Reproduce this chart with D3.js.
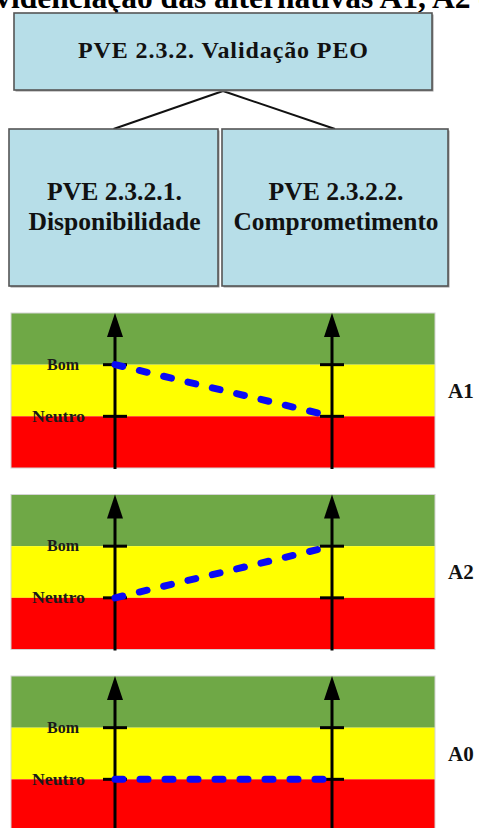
<!DOCTYPE html>
<html>
<head>
<meta charset="utf-8">
<script src="https://cdn.jsdelivr.net/npm/d3@7"></script>
<style>
  html, body { margin: 0; padding: 0; background: #ffffff; }
  svg { display: block; }
</style>
</head>
<body>
<div id="chart"></div>
<script>
// ---------------- data ----------------
const title = "Evidenciação das alternativas A1, A2 e A0";
const rootLabel = "PVE 2.3.2. Validação PEO";
const criteria = ["PVE 2.3.2.1.", "PVE 2.3.2.2."];
const criteriaNames = ["Disponibilidade", "Comprometimento"];
const alternatives = ["A1", "A2", "A0"];
const levelNames = ["Bom", "Neutro"];
const levelValues = [100, 0];
const disponibilidade = [100, 0, 0];   // value of each alternative on criterion 1
const comprometimento = [0, 100, 0];   // value of each alternative on criterion 2
const bandLower = [100, 0, -100];
const bandUpper = [200, 100, 0];
const valueDomain = [-100, 200];

// ---------------- styles ----------------
const W = 479, H = 828;
const serif = "'Liberation Serif', 'Times New Roman', serif";
const boxFill = "#B7DEE8", boxStroke = "#555555";
const bandColors = ["#6FA846", "#FFFF00", "#FF0000"];
const lineColor = "#0A0AF5";

const svg = d3.select("#chart").append("svg")
  .attr("width", W).attr("height", H);

// ---------------- title (cropped at top, as in the reference) ----------------
const t = svg.append("text")
  .attr("x", 0).attr("y", 8)
  .attr("font-family", serif).attr("font-weight", "bold")
  .attr("font-size", 31.5).attr("fill", "#000")
  .text(title);
const iPos = t.node().getStartPositionOfChar(2).x;
t.attr("x", 11 - iPos);

// ---------------- hierarchy boxes ----------------
const root = {x0: 14, x1: 432, y0: 13, y1: 90};
const kids = [{x0: 9, x1: 218, y0: 129, y1: 286}, {x0: 222, x1: 448, y0: 129, y1: 286}];
const kidTextW = [[135, 172], [135, 205]];

function drawBox(b) {
  svg.append("rect")
    .attr("x", b.x0 + 1.5).attr("y", b.y0 + 1.5)
    .attr("width", b.x1 - b.x0).attr("height", b.y1 - b.y0)
    .attr("fill", "#9a9a9a");
  svg.append("rect")
    .attr("x", b.x0).attr("y", b.y0)
    .attr("width", b.x1 - b.x0).attr("height", b.y1 - b.y0)
    .attr("fill", boxFill).attr("stroke", boxStroke).attr("stroke-width", 1.6);
}

// connectors
kids.forEach(k => {
  svg.append("line")
    .attr("x1", (root.x0 + root.x1) / 2).attr("y1", root.y1 + 1)
    .attr("x2", (k.x0 + k.x1) / 2).attr("y2", k.y0)
    .attr("stroke", "#111").attr("stroke-width", 2);
});

drawBox(root);
svg.append("text")
  .attr("x", 223).attr("y", 58)
  .attr("text-anchor", "middle")
  .attr("font-family", serif).attr("font-weight", "bold").attr("font-size", 24)
  .attr("fill", "#111")
  .attr("textLength", 290).attr("lengthAdjust", "spacing")
  .text(rootLabel);

kids.forEach((k, i) => {
  drawBox(k);
  const cx = (k.x0 + k.x1) / 2 + 1;
  [criteria[i], criteriaNames[i]].forEach((s, j) => {
    svg.append("text")
      .attr("x", cx).attr("y", 200 + j * 30)
      .attr("text-anchor", "middle")
      .attr("font-family", serif).attr("font-weight", "bold").attr("font-size", 25)
      .attr("fill", "#111")
      .attr("textLength", kidTextW[i][j]).attr("lengthAdjust", "spacingAndGlyphs")
      .text(s);
  });
});

// ---------------- alternative panels ----------------
const panelX0 = 11, panelX1 = 435, panelH = 155;
const panelTop = d3.scalePoint().domain(alternatives).range([313, 676]);
const x = d3.scalePoint().domain(criteria).range([115, 332]);
const y = d3.scaleLinear().domain(valueDomain).range([panelH, 0]);

alternatives.forEach((alt, i) => {
  const g = svg.append("g").attr("transform", `translate(0,${panelTop(alt)})`);

  // bands
  bandLower.forEach((lo, b) => {
    g.append("rect")
      .attr("x", panelX0).attr("width", panelX1 - panelX0)
      .attr("y", y(bandUpper[b])).attr("height", y(lo) - y(bandUpper[b]))
      .attr("fill", bandColors[b]);
  });
  g.append("rect")
    .attr("x", panelX0).attr("width", panelX1 - panelX0)
    .attr("y", 0).attr("height", panelH)
    .attr("fill", "none").attr("stroke", "#d4d4d4").attr("stroke-width", 1);

  // axes with arrowheads and ticks
  criteria.forEach(c => {
    const cx = x(c);
    g.append("line")
      .attr("x1", cx).attr("x2", cx)
      .attr("y1", y(valueDomain[0]) + 1).attr("y2", y(valueDomain[1]) + 20)
      .attr("stroke", "#000").attr("stroke-width", 3);
    const top = y(valueDomain[1]);
    g.append("path")
      .attr("d", `M${cx},${top}L${cx - 8},${top + 24}L${cx + 8},${top + 24}Z`)
      .attr("fill", "#000");
    levelValues.forEach(v => {
      g.append("line")
        .attr("x1", cx - 12).attr("x2", cx + 12)
        .attr("y1", y(v)).attr("y2", y(v))
        .attr("stroke", "#000").attr("stroke-width", 3);
    });
  });

  // level labels
  levelNames.forEach((name, k) => {
    g.append("text")
      .attr("x", name === "Bom" ? 79 : 85)
      .attr("y", y(levelValues[k]))
      .attr("dy", "0.33em")
      .attr("text-anchor", "end")
      .attr("font-family", serif).attr("font-weight", "bold").attr("font-size", 16)
      .attr("fill", "#1a1a1a")
      .attr("textLength", name === "Bom" ? 32 : 53).attr("lengthAdjust", "spacingAndGlyphs")
      .text(name);
  });

  // profile line
  const pts = [[criteria[0], disponibilidade[i]], [criteria[1], comprometimento[i]]];
  const line = d3.line().x(d => x(d[0])).y(d => y(d[1]));
  g.append("path")
    .attr("d", line(pts))
    .attr("fill", "none")
    .attr("stroke", lineColor).attr("stroke-width", 7)
    .attr("stroke-linecap", "round")
    .attr("stroke-dasharray", "8,17");

  // alternative label
  g.append("text")
    .attr("x", 448).attr("y", (y(levelValues[0]) + y(levelValues[1])) / 2)
    .attr("dy", "0.35em")
    .attr("font-family", serif).attr("font-weight", "bold").attr("font-size", 21)
    .attr("fill", "#111")
    .text(alt);
});
</script>
</body>
</html>
